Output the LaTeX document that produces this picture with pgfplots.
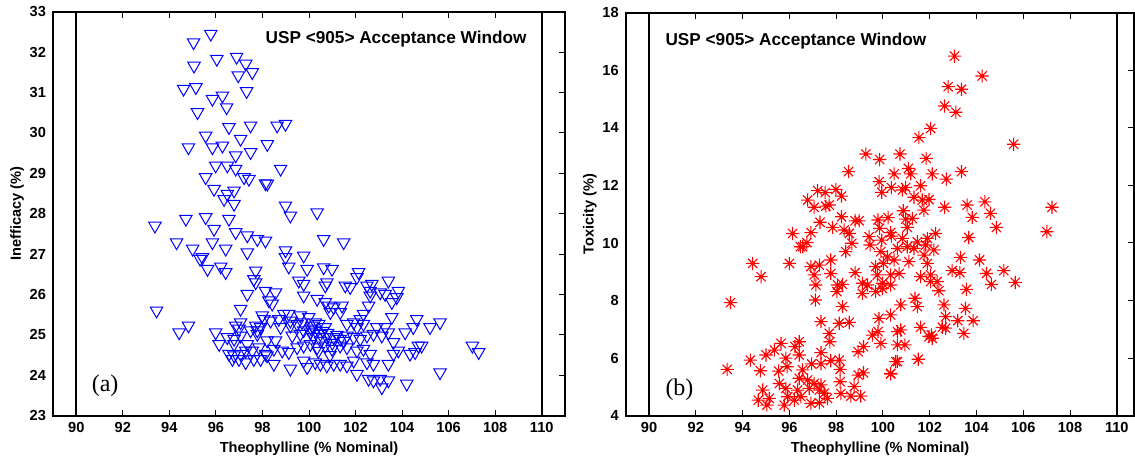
\documentclass[border=0pt]{standalone}
\usepackage{fontspec}
\setmainfont{Liberation Sans}
\newfontfamily\seriffont{Liberation Serif}
\usepackage{pgfplots}
\usepackage{pgfplotstable}
\pgfplotsset{compat=1.18}

\pgfdeclareplotmark{mstar}{%
 \pgfpathmoveto{\pgfqpoint{-\pgfplotmarksize}{0pt}}%
 \pgfpathlineto{\pgfqpoint{\pgfplotmarksize}{0pt}}%
 \pgfpathmoveto{\pgfqpoint{0pt}{-\pgfplotmarksize}}%
 \pgfpathlineto{\pgfqpoint{0pt}{\pgfplotmarksize}}%
 \pgfpathmoveto{\pgfqpoint{-0.7\pgfplotmarksize}{-0.7\pgfplotmarksize}}%
 \pgfpathlineto{\pgfqpoint{0.7\pgfplotmarksize}{0.7\pgfplotmarksize}}%
 \pgfpathmoveto{\pgfqpoint{-0.7\pgfplotmarksize}{0.7\pgfplotmarksize}}%
 \pgfpathlineto{\pgfqpoint{0.7\pgfplotmarksize}{-0.7\pgfplotmarksize}}%
 \pgfusepathqstroke}

\pgfplotstableread{
x y
95.78 32.45
95.04 32.24
96.04 31.83
96.89 31.88
97.28 31.71
95.06 31.66
96.96 31.42
97.56 31.50
94.61 31.09
95.14 31.13
97.32 31.03
95.85 30.84
96.28 30.92
96.46 30.63
95.21 30.51
94.82 29.64
93.38 27.70
94.71 27.87
94.31 27.29
95.00 27.13
95.32 26.88
93.45 25.60
94.42 25.06
94.82 25.23
96.56 30.14
97.49 30.18
98.63 30.18
98.99 30.22
95.56 29.93
97.06 29.85
98.21 29.72
95.85 29.64
96.28 29.68
96.85 29.44
97.49 29.52
95.99 29.19
96.49 29.19
96.85 29.11
98.78 29.11
95.56 28.90
97.21 28.90
97.42 28.86
98.13 28.75
98.21 28.74
95.92 28.61
96.49 28.49
96.78 28.57
96.35 28.36
96.78 28.24
98.99 28.20
99.20 27.95
100.35 28.03
95.56 27.91
96.56 27.87
95.92 27.62
96.85 27.54
97.35 27.46
97.78 27.37
98.13 27.33
95.85 27.29
96.42 27.13
97.35 27.04
98.99 27.09
99.77 26.96
98.99 26.92
100.63 27.37
101.49 27.29
95.42 26.92
95.64 26.63
96.21 26.69
96.42 26.55
97.71 26.59
99.13 26.69
99.92 26.63
100.63 26.67
100.99 26.63
102.13 26.55
102.06 26.43
97.63 26.38
97.71 26.30
99.56 26.34
99.77 26.26
100.77 26.30
100.70 26.22
101.56 26.22
101.77 26.18
102.49 26.22
102.70 26.26
103.41 26.34
103.84 26.09
102.63 26.09
103.06 26.05
97.35 26.01
98.13 26.09
98.56 26.05
98.28 25.85
98.42 25.77
99.77 25.97
100.35 25.89
100.70 25.81
100.85 25.72
101.06 25.68
101.42 25.72
102.63 25.97
102.56 25.72
103.27 26.01
103.56 25.81
103.77 25.93
97.06 25.64
100.92 25.56
101.34 25.56
101.63 25.27
102.34 25.52
103.56 25.44
104.63 25.39
97.99 25.48
98.06 25.39
98.35 25.35
98.92 25.52
99.13 25.52
99.63 25.48
99.99 25.44
100.27 25.31
99.20 25.35
99.70 25.31
98.70 25.39
97.06 25.31
96.85 25.23
96.99 25.15
97.71 25.23
97.92 25.19
97.78 25.11
98.78 25.19
99.20 25.23
99.49 25.27
100.13 25.23
100.42 25.27
100.70 25.19
101.92 25.31
102.20 25.39
102.34 25.27
102.06 25.19
102.91 25.19
103.27 25.19
103.41 25.06
104.13 25.06
104.48 25.19
105.20 25.19
105.63 25.31
95.99 25.06
96.49 24.94
96.78 24.90
97.06 24.98
97.49 25.11
97.78 25.02
98.20 24.86
98.56 24.86
99.28 24.98
99.63 25.02
99.77 25.11
100.06 25.06
100.27 25.11
100.49 25.02
100.77 24.94
101.06 24.94
101.34 24.90
101.63 24.98
101.92 24.94
102.20 24.90
102.49 24.98
102.77 25.02
103.13 24.98
103.63 24.82
104.70 24.73
104.84 24.73
96.14 24.77
96.78 24.77
97.35 24.77
96.56 24.53
96.78 24.49
97.06 24.53
97.28 24.61
97.56 24.61
97.85 24.69
98.13 24.53
98.49 24.65
98.85 24.61
99.13 24.57
99.49 24.69
99.77 24.73
100.06 24.77
100.35 24.69
100.70 24.73
100.99 24.65
101.34 24.73
101.63 24.69
102.06 24.61
102.34 24.65
102.63 24.53
103.63 24.53
103.84 24.61
104.34 24.53
104.56 24.57
96.71 24.40
96.99 24.40
97.28 24.32
97.63 24.40
97.92 24.40
98.20 24.49
98.49 24.28
99.20 24.16
99.77 24.36
99.92 24.20
100.27 24.32
100.49 24.28
100.77 24.24
101.06 24.28
101.34 24.28
101.63 24.24
101.92 24.36
102.06 24.03
102.49 24.32
102.77 24.28
103.41 24.28
105.63 24.07
102.56 23.91
102.77 23.87
103.06 23.91
103.13 23.70
103.41 23.87
104.20 23.79
107.02 24.73
107.29 24.57
100.20 24.95
100.50 24.85
100.80 25.05
101.00 24.80
101.20 25.00
100.40 24.60
100.90 24.50
101.50 24.85
100.10 25.15
100.60 25.10
}\lefttab

\pgfplotstableread{
x y
103.06 16.49
104.24 15.80
102.79 15.43
103.36 15.34
102.64 14.76
103.12 14.54
107.23 11.24
102.04 13.98
101.54 13.66
105.59 13.43
99.27 13.09
100.73 13.09
99.86 12.90
101.85 12.94
98.53 12.48
100.48 12.40
101.09 12.59
101.19 12.40
102.11 12.40
102.71 12.22
103.36 12.48
99.84 12.13
100.36 11.93
99.95 11.76
100.83 11.84
100.97 11.93
101.61 11.99
97.21 11.82
97.53 11.75
97.99 11.86
98.23 11.63
96.78 11.49
97.06 11.24
97.56 11.28
97.70 11.32
101.33 11.59
101.68 11.49
101.97 11.51
100.87 11.12
101.75 11.14
102.64 11.24
103.60 11.32
104.36 11.43
103.82 10.89
104.60 11.03
98.23 10.91
98.81 10.77
98.98 10.77
100.22 10.88
99.79 10.80
100.97 10.83
101.26 10.85
97.31 10.72
97.85 10.54
98.34 10.45
98.56 10.33
99.86 10.51
100.33 10.36
101.04 10.54
96.92 10.36
96.75 10.01
96.57 9.87
98.67 9.99
99.41 10.22
99.45 9.93
99.95 10.10
100.36 10.24
100.83 10.16
101.47 10.04
101.90 10.16
102.25 10.33
104.85 10.54
103.67 10.19
98.41 9.70
99.91 9.70
100.19 9.52
100.62 9.81
101.04 9.87
101.33 9.81
101.83 9.93
102.18 9.76
101.76 9.58
100.48 9.41
100.02 9.29
99.69 9.18
101.11 9.35
101.90 9.29
103.32 9.50
104.13 9.41
96.92 9.18
97.77 9.41
97.77 8.94
97.06 8.89
97.28 9.23
98.81 8.97
99.76 8.89
100.33 8.89
100.69 8.94
101.61 8.83
102.04 8.89
102.32 8.66
102.96 9.04
103.29 8.97
104.43 8.94
105.17 9.04
105.66 8.63
104.64 8.56
103.57 8.39
97.13 8.54
98.06 8.54
98.27 8.56
99.12 8.60
99.34 8.54
99.98 8.60
100.33 8.54
98.03 8.31
99.12 8.25
99.69 8.31
99.98 8.42
102.04 8.66
102.39 8.34
97.11 8.02
98.27 7.79
100.76 7.85
101.37 8.08
102.61 7.85
101.47 7.79
103.53 7.73
107.01 10.39
102.68 7.44
103.20 7.30
103.86 7.30
103.46 6.86
102.54 7.07
102.68 7.04
101.61 7.07
102.07 6.80
102.11 6.69
101.97 6.75
100.76 6.98
100.94 6.46
100.62 6.46
100.62 5.88
100.33 5.45
101.51 5.96
93.48 7.93
97.35 7.27
98.13 7.21
98.56 7.24
99.83 7.38
100.33 7.50
100.62 6.92
99.55 6.80
99.79 6.92
97.70 6.86
97.73 6.57
95.64 6.51
96.24 6.40
96.42 6.57
95.36 6.28
95.00 6.11
94.33 5.93
95.85 6.00
96.42 6.11
97.35 6.19
97.77 5.91
98.13 5.93
98.94 6.22
99.17 6.40
99.91 6.51
100.55 5.88
93.34 5.61
94.76 5.56
95.54 5.55
95.90 5.70
96.56 5.59
96.95 5.80
97.35 5.80
99.17 5.49
98.94 5.41
100.33 5.47
98.17 5.18
98.77 5.01
99.05 4.68
96.42 5.30
96.78 5.24
97.06 5.12
97.35 5.07
95.57 5.12
95.85 4.95
96.35 4.89
96.85 4.95
97.28 4.89
97.49 4.78
94.86 4.89
95.93 4.66
96.49 4.66
94.67 4.54
95.14 4.60
95.04 4.37
95.78 4.37
96.21 4.54
96.92 4.43
97.28 4.45
97.63 4.60
98.20 4.77
98.63 4.68
98.17 5.61
94.43 9.29
94.79 8.83
96.14 10.33
96.00 9.29
96.47 9.87
}\righttab

\pgfplotsset{
 panel/.style={
  scale only axis,
  anchor=south west,
  xmin=89,
  xtick={90,92,...,110},
  tick align=inside,
  ytick pos=right, yticklabel pos=left,
  axis line style={line width=1pt},
  major tick length=3pt,
  every tick/.style={black, line width=0.5pt},
  tick label style={font=\bfseries\fontsize{7.3}{8}\selectfont},
  label style={font=\bfseries\fontsize{7.3}{8}\selectfont},
  /pgf/number format/assume math mode=true,
  xlabel style={at={(axis description cs:0.5,0)}, anchor=base, yshift=-18.5pt},
  ylabel style={at={(axis description cs:-0.0703,0.5)}, anchor=center},
  xlabel={Theophylline (\% Nominal)},
 }
}

\begin{document}
\begin{tikzpicture}
\useasboundingbox (0,0) rectangle (567.5pt,230.5pt);
\begin{axis}[panel,
  at={(26.5pt,22.65pt)},
  width=256pt, height=202pt,
  xmax=111, ymin=23, ymax=33,
  ytick={23,24,...,33},
  ylabel={Inefficacy (\%)}]
\addplot[black, line width=1pt, forget plot] coordinates {(90,23) (90,33)};
\addplot[black, line width=1pt, forget plot] coordinates {(110,23) (110,33)};
\addplot[only marks, blue, mark=triangle, mark size=3.6pt,
  mark options={rotate=180, line width=0.5pt, fill=none}] table {\lefttab};
\node[font=\bfseries\fontsize{8.6}{10}\selectfont] at (axis cs:103.74,32.32) {USP <905> Acceptance Window};
\node[font=\seriffont\fontsize{12}{14}\selectfont] at (axis cs:91.24,23.74) {(a)};
\end{axis}
\begin{axis}[panel,
  at={(312.85pt,22.65pt)},
  width=254.3pt, height=201.5pt,
  xmax=110.75, ymin=4, ymax=18,
  ytick={4,6,...,18},
  ylabel={Toxicity (\%)}]
\addplot[black, line width=1pt, forget plot] coordinates {(90,4) (90,18)};
\addplot[black, line width=1pt, forget plot] coordinates {(110,4) (110,18)};
\addplot[only marks, red, mark=mstar, mark size=3.3pt,
  mark options={line width=0.55pt}] table {\righttab};
\node[font=\bfseries\fontsize{8.6}{10}\selectfont] at (axis cs:96.28,17.01) {USP <905> Acceptance Window};
\node[font=\seriffont\fontsize{12}{14}\selectfont] at (axis cs:91.30,4.89) {(b)};
\end{axis}
\end{tikzpicture}
\end{document}
